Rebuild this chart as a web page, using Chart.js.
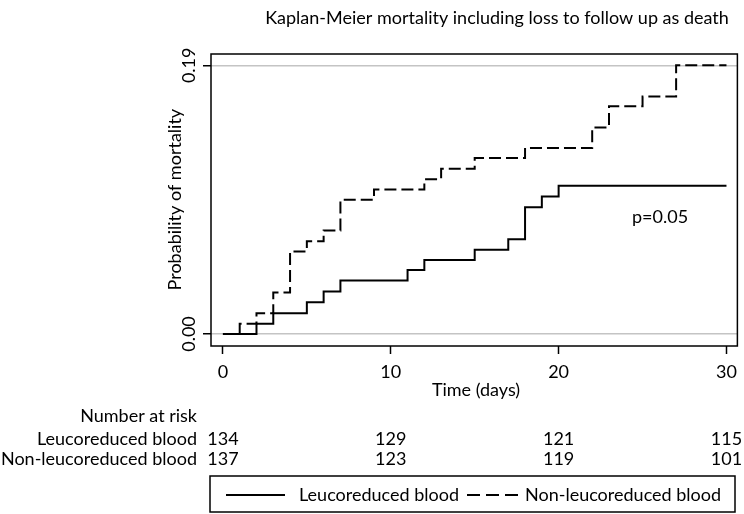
<!DOCTYPE html>
<html>
<head>
<meta charset="utf-8">
<script src="https://cdn.jsdelivr.net/npm/chart.js@4/dist/chart.umd.min.js"></script>
<style>
    html, body { margin: 0; padding: 0; background: #fff; }
</style>
</head>
<body>
<canvas id="kmChart" width="744" height="514"></canvas>
<script>
// step points: time (days) and cumulative probability of mortality
const leucoTimes = [0, 2, 3, 5, 6, 7, 11, 12, 15, 17, 18, 19, 20, 30];
const leucoValues = [0, 0.0073, 0.0147, 0.0224, 0.030, 0.0378, 0.0453, 0.0524, 0.0595, 0.067, 0.0897, 0.0972, 0.1048, 0.1048];
const nonLeucoTimes = [0, 1, 2, 3, 4, 5, 6, 7, 9, 12, 13, 15, 18, 22, 23, 25, 27, 30];
const nonLeucoValues = [0, 0.0073, 0.0147, 0.0293, 0.0583, 0.0656, 0.0732, 0.0949, 0.1022, 0.1095, 0.1168, 0.1244, 0.1315, 0.146, 0.161, 0.168, 0.19, 0.19];

const xTicks = [0, 10, 20, 30];
const yTicks = [0, 0.19];
const yTickLabels = ['0.00', '0.19'];

const riskTimes = [0, 10, 20, 30];
const riskLeuco = [134, 129, 121, 115];
const riskNonLeuco = [137, 123, 119, 101];

const FONT = 'Lato, "Open Sans", sans-serif';
const FS = 18;

function toPoints(times, values) {
    return times.map((t, i) => ({ x: t, y: values[i] }));
}

const extras = {
    id: 'extras',
    afterDraw(chart) {
        const c = chart.ctx;
        const a = chart.chartArea;
        const xs = chart.scales.x;
        const ys = chart.scales.y;
        c.save();

        // frame
        c.strokeStyle = '#000';
        c.lineWidth = 1.5;
        c.strokeRect(a.left, a.top, a.right - a.left, a.bottom - a.top);

        c.fillStyle = '#000';
        c.textBaseline = 'middle';
        c.font = FS + 'px ' + FONT;

        // title
        c.textAlign = 'center';
        c.fillText('Kaplan-Meier mortality including loss to follow up as death', 497, 18);

        // p value
        c.textAlign = 'left';
        c.fillText('p=0.05', 632, 217);

        // x title
        c.textAlign = 'center';
        c.fillText('Time (days)', 476, 390);

        // y tick labels and title, rotated
        c.textBaseline = 'alphabetic';
        yTicks.forEach((v, i) => {
            c.save();
            c.translate(195, ys.getPixelForValue(v));
            c.rotate(-Math.PI / 2);
            c.fillText(yTickLabels[i], 0, 0);
            c.restore();
        });
        c.save();
        c.translate(181, (ys.getPixelForValue(0) + ys.getPixelForValue(0.19)) / 2);
        c.rotate(-Math.PI / 2);
        c.fillText('Probability of mortality', 0, 0);
        c.restore();

        // number at risk table
        c.textBaseline = 'middle';
        c.textAlign = 'right';
        c.fillText('Number at risk', 197, 416);
        c.fillText('Leucoreduced blood', 197, 439);
        c.fillText('Non-leucoreduced blood', 197, 459);
        c.textAlign = 'center';
        riskTimes.forEach((t, i) => {
            const px = xs.getPixelForValue(t);
            c.fillText(String(riskLeuco[i]), px, 439);
            c.fillText(String(riskNonLeuco[i]), px, 459);
        });

        // legend box
        c.lineWidth = 1.5;
        c.strokeRect(210, 476, 525, 36);
        const ds = chart.data.datasets;
        c.lineWidth = 2;
        c.beginPath();
        c.moveTo(226, 495);
        c.lineTo(285, 495);
        c.stroke();
        c.setLineDash([13, 6]);
        c.beginPath();
        c.moveTo(467, 495);
        c.lineTo(519, 495);
        c.stroke();
        c.setLineDash([]);
        c.textAlign = 'left';
        c.fillText(ds[0].label, 299, 495);
        c.fillText(ds[1].label, 525, 495);

        c.restore();
    }
};

const ctx = document.getElementById('kmChart').getContext('2d');

new Chart(ctx, {
    type: 'line',
    data: {
        datasets: [{
            label: 'Leucoreduced blood',
            data: toPoints(leucoTimes, leucoValues),
            borderColor: '#000',
            borderWidth: 2,
            stepped: true,
            pointRadius: 0,
            fill: false
        }, {
            label: 'Non-leucoreduced blood',
            data: toPoints(nonLeucoTimes, nonLeucoValues),
            borderColor: '#000',
            borderWidth: 2,
            borderDash: [12, 5],
            stepped: true,
            pointRadius: 0,
            fill: false
        }]
    },
    options: {
        responsive: false,
        animation: false,
        layout: {
            padding: { top: 54, right: 4, left: 0, bottom: 0 }
        },
        plugins: {
            legend: { display: false },
            tooltip: { enabled: false },
            title: { display: false }
        },
        scales: {
            x: {
                type: 'linear',
                min: -0.71,
                max: 30.65,
                afterBuildTicks: s => { s.ticks = xTicks.map(v => ({ value: v })); },
                afterFit: s => { s.height = 514 - 346; },
                grid: { drawOnChartArea: false, tickLength: 8, tickColor: '#000', tickWidth: 1.5 },
                border: { display: false },
                ticks: {
                    color: '#000',
                    padding: 7,
                    maxRotation: 0,
                    font: { family: FONT, size: FS }
                }
            },
            y: {
                min: -0.0085,
                max: 0.198,
                afterBuildTicks: s => { s.ticks = yTicks.map(v => ({ value: v })); },
                afterFit: s => { s.width = 211; },
                grid: { color: '#c4c4c4', lineWidth: 1.5, tickLength: 8, tickColor: '#000', tickWidth: 1.5 },
                border: { display: false },
                ticks: { display: false }
            }
        }
    },
    plugins: [extras]
});
</script>
</body>
</html>
